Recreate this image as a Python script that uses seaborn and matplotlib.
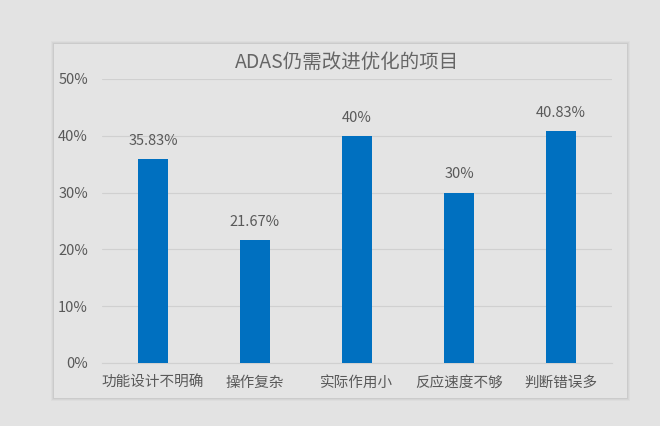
import matplotlib
matplotlib.use("Agg")
import matplotlib.pyplot as plt
import matplotlib.patches as mpatches
from matplotlib.ticker import FuncFormatter
import seaborn as sns
import pandas as pd

categories = ["功能设计不明确", "操作复杂", "实际作用小", "反应速度不够", "判断错误多"]
values = [35.83, 21.67, 40, 30, 40.83]
value_labels = ["35.83%", "21.67%", "40%", "30%", "40.83%"]
yticks = [0, 10, 20, 30, 40, 50]
title = "ADAS仍需改进优化的项目"

sns.set_style("white")
plt.rcParams['font.family'] = ['Noto Sans CJK SC', 'DejaVu Sans']

bg = "#e3e3e3"
text_c = "#595959"
fig = plt.figure(figsize=(6.6, 4.26), dpi=100, facecolor=bg)

# panel with soft shadow
for i, a in enumerate([0.025, 0.035, 0.045]):
    off = (3 - i) * 1.0
    fig.patches.append(mpatches.Rectangle(((54 - off) / 660, 1 - (398 + off) / 426),
                                          (573 + 2 * off) / 660, (354 + 2 * off) / 426,
                                          transform=fig.transFigure, facecolor="black",
                                          alpha=a, edgecolor="none", zorder=-3))
fig.patches.append(mpatches.Rectangle((54 / 660, 1 - 398 / 426), 573 / 660, 354 / 426,
                                      transform=fig.transFigure, facecolor="#e4e4e4",
                                      edgecolor="none", zorder=-2))

ax = fig.add_axes([102 / 660, 1 - 363 / 426, 510 / 660, (363 - 79) / 426])
ax.set_facecolor("none")
df = pd.DataFrame({"cat": categories, "val": values})
sns.barplot(data=df, x="cat", y="val", color="#0070C0", width=0.3, ax=ax,
            saturation=1, zorder=3, linewidth=0)

ax.set_ylim(0, 50)
ax.set_xlim(-0.5, 4.5)
ax.set_yticks(yticks)
ax.yaxis.set_major_formatter(FuncFormatter(lambda v, p: f"{int(v)}%"))
ax.grid(axis="y", color="#d0d0d0", linewidth=0.8, zorder=0)
ax.grid(axis="x", visible=False)
ax.set_axisbelow(True)
for s in ["top", "right", "left"]:
    ax.spines[s].set_visible(False)
ax.spines["bottom"].set_color("#d0d0d0")
ax.spines["bottom"].set_linewidth(0.8)
ax.tick_params(axis="both", length=0, labelsize=10.5, colors=text_c, pad=9)
ax.tick_params(axis="y", pad=10)
ax.set_xlabel("")
ax.set_ylabel("")

for i, (v, lab) in enumerate(zip(values, value_labels)):
    ax.annotate(lab, (i, v), xytext=(0, 8), textcoords="offset points",
                ha="center", va="bottom", fontsize=10.5, color=text_c)

fig.text(347 / 660, 1 - 62 / 426, title, ha="center", va="center", fontsize=14, color="#666666")

fig.savefig("out.png", dpi=100, facecolor=bg)
